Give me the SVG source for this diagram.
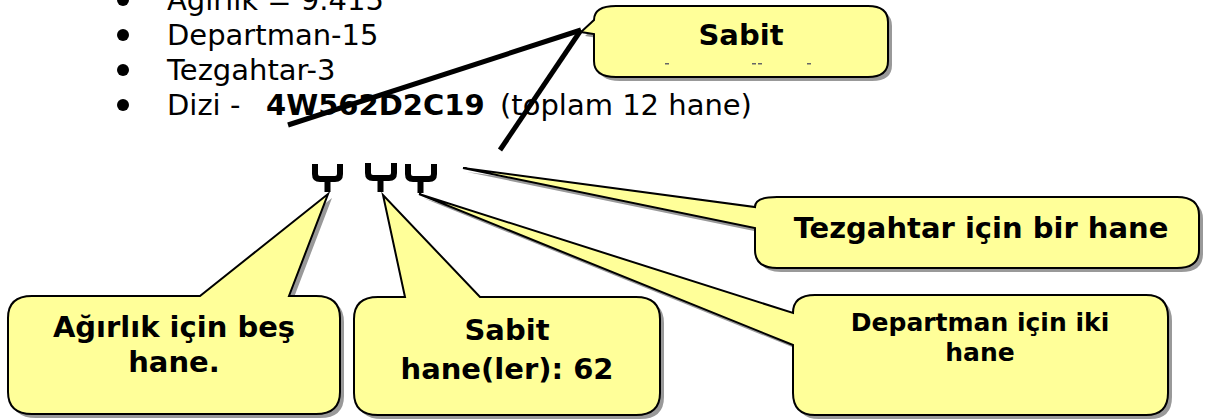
<svg xmlns="http://www.w3.org/2000/svg" xmlns:xlink="http://www.w3.org/1999/xlink" width="1207" height="419" viewBox="0 0 1207 419">
<style>
.body{font-family:"DejaVu Sans","Liberation Sans",sans-serif;font-size:29px;fill:#000}
.lbl{font-family:"DejaVu Sans","Liberation Sans",sans-serif;font-size:29px;font-weight:bold;fill:#000;text-anchor:middle}
.lbl.sm{font-size:25px}
.callout{fill:#FFFF99;stroke:#000;stroke-width:2;stroke-linejoin:miter}
.shadow{fill:#999;stroke:none}
.brace{fill:none;stroke:#000;stroke-width:6;stroke-linejoin:round}
.conn{stroke:#000;stroke-width:5;fill:none}
</style>
<defs>
<path id="pS0" d="M594,20 Q594,6 616,6 L868,6 Q888,6 888,22 L888,61 Q888,77 868,77 L616,77 Q594,77 594,61 L594,34 L581,32 Z"/>
<path id="pA" d="M8,318 Q8,296 32,296 L200,296 L328,194 L289,296 L316,296 Q340,296 340,318 L340,392 Q340,414 316,414 L32,414 Q8,414 8,392 Z"/>
<path id="pB" d="M354,319 Q354,297 378,297 L405,297 L383,195 L480,297 L636,297 Q660,297 660,319 L660,393 Q660,415 636,415 L378,415 Q354,415 354,393 Z"/>
<path id="pC" d="M755,207 Q755,197 777,197 L1177,197 Q1199,197 1199,215 L1199,250 Q1199,268 1177,268 L777,268 Q755,268 755,250 L755,228 L463,168 Z"/>
<path id="pD" d="M793,313 Q793,295 815,295 L1146,295 Q1168,295 1168,317 L1168,393 Q1168,415 1146,415 L815,415 Q793,415 793,393 L793,345 L419,194 Z"/>
</defs>

<g id="bullets">
<circle cx="123" cy="0" r="6"/>
<circle cx="123" cy="35" r="6"/>
<circle cx="123" cy="70" r="6"/>
<circle cx="123" cy="105" r="6"/>
<text class="body" x="167" y="10">Ağırlık = 9.415</text>
<text class="body" x="167" y="45">Departman-15</text>
<text class="body" x="167" y="80">Tezgahtar-3</text>
<text class="body" x="167" y="115">Dizi  -</text>
<text class="body" x="266" y="115" font-weight="bold">4W562D2C19</text>
<text class="body" x="500" y="115">(toplam 12 hane)</text>
</g>

<g id="braces">
<path class="brace" d="M315,164 V174 Q315,179 320,179 H335 Q340,179 340,174 V164 M327.5,179 V192"/>
<path class="brace" d="M368,163 V173 Q368,178 373,178 H389 Q394,178 394,173 V163 M380.5,178 V192"/>
<path class="brace" d="M408,164 V174 Q408,179 413,179 H429 Q434,179 434,174 V164 M420.5,179 V193"/>
</g>

<g id="callout-sabit-top">
<use xlink:href="#pS0" class="shadow" transform="translate(4,4)"/>
<use xlink:href="#pS0" class="callout"/>
<text class="lbl" x="741" y="45">Sabit</text>
<rect x="665" y="63" width="4" height="1.5" fill="#666"/>
<rect x="752" y="63" width="4" height="1.5" fill="#666"/>
<rect x="758" y="63" width="4" height="1.5" fill="#666"/>
<rect x="807" y="63" width="4" height="1.5" fill="#666"/>
</g>

<g id="callout-agirlik">
<use xlink:href="#pA" class="shadow" transform="translate(4,4)"/>
<use xlink:href="#pA" class="callout"/>
<text class="lbl" x="174" y="337">Ağırlık için beş</text>
<text class="lbl" x="174" y="372">hane.</text>
</g>

<g id="callout-sabit">
<use xlink:href="#pB" class="shadow" transform="translate(4,4)"/>
<use xlink:href="#pB" class="callout"/>
<text class="lbl" x="507" y="340">Sabit</text>
<text class="lbl" x="507" y="379">hane(ler): 62</text>
</g>

<g id="callout-tezgahtar">
<use xlink:href="#pC" class="shadow" transform="translate(4,4)"/>
<use xlink:href="#pC" class="callout"/>
<text class="lbl" x="981" y="238">Tezgahtar için bir hane</text>
</g>

<g id="callout-departman">
<use xlink:href="#pD" class="shadow" transform="translate(4,4)"/>
<use xlink:href="#pD" class="callout"/>
<text class="lbl sm" x="980" y="331">Departman için iki</text>
<text class="lbl sm" x="980" y="361">hane</text>
</g>

<g id="connectors">
<line class="conn" x1="581" y1="30" x2="288" y2="125"/>
<line class="conn" x1="581" y1="30" x2="500" y2="150"/>
</g>
</svg>
